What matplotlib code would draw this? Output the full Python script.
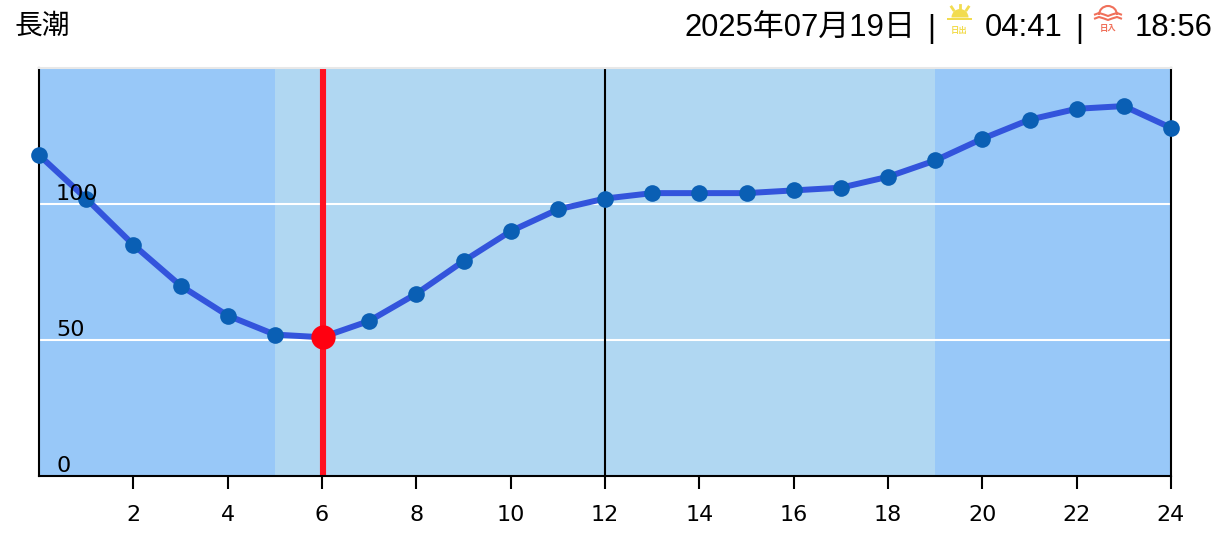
import matplotlib
matplotlib.use("Agg")
import matplotlib.pyplot as plt
from matplotlib.patches import Wedge, Rectangle, Arc

W, H = 1226, 542
hours = list(range(25))
tide = [118, 102, 85, 70, 59, 52, 51, 57, 67, 79, 90, 98, 102, 104, 104, 104, 105, 106, 110, 116, 124, 131, 135, 136, 128]
xticks = [2, 4, 6, 8, 10, 12, 14, 16, 18, 20, 22, 24]
ylevels = [0, 50, 100]
sunrise_hour, sunset_hour = 5, 19
now_hour, now_value = 6.02, 51
noon_hour = 12
title = "長潮"
date_text = "2025年07月19日"
rise_text, set_text = "04:41", "18:56"

plt.rcParams['font.family'] = ['DejaVu Sans', 'Noto Sans CJK JP']
head = ['Liberation Sans', 'Noto Sans CJK JP']
fig = plt.figure(figsize=(W/100, H/100), dpi=100, facecolor='white')

L, R, T, B = 39, 1171, 68, 476
ax = fig.add_axes([L/W, 1-B/H, (R-L)/W, (B-T)/H])
ax.set_xlim(0, 24)
ax.set_ylim(0, 150)
ax.set_facecolor('#98c8f8')
ax.axvspan(sunrise_hour, sunset_hour, color='#b0d7f2', lw=0, zorder=0)
for v in ylevels[1:]:
    ax.axhline(v, color='white', lw=1.5, zorder=1)
ax.axvline(noon_hour, color='black', lw=1.5, zorder=1.5)
ax.axvline(now_hour, color='#ff1020', lw=4.4, zorder=2)
ax.plot(hours, tide, color='#3354dc', lw=4.3, zorder=3, clip_on=False, solid_joinstyle='round')
ax.plot(hours, tide, ls='', marker='o', ms=12, color='#0a5fb4', mew=0, zorder=4, clip_on=False)
ax.plot([now_hour], [now_value], ls='', marker='o', ms=17.5, color='#ff0010', mew=0, zorder=5, clip_on=False)

ax.spines['top'].set_color('#e8e8e8'); ax.spines['top'].set_linewidth(1.5)
for s in ('left', 'right', 'bottom'):
    ax.spines[s].set_color('black'); ax.spines[s].set_linewidth(1.5)
ax.set_yticks([])
ax.set_xticks(xticks)
ax.tick_params(axis='x', length=9, width=1.5, pad=12, labelsize=16)

for v in ylevels:
    ax.annotate(str(v), (0, v), xytext=(17, 0), textcoords='offset pixels',
                fontsize=16, va='bottom', ha='left', zorder=7)

def px(x, y, s, **kw):
    fig.text(x/W, 1-y/H, s, **kw)

px(15, 27, title, fontsize=20, family=head, va='center', ha='left')
px(915, 28, date_text, fontsize=22.3, family=head, va='center', ha='right')
px(931, 29, "|", fontsize=22.3, family=head, va='center', ha='center')
px(985, 28, rise_text, fontsize=22.3, family=head, va='center', ha='left')
px(1079, 29, "|", fontsize=22.3, family=head, va='center', ha='center')
px(1135, 28, set_text, fontsize=22.3, family=head, va='center', ha='left')

# icon overlay in pixel coordinates
ov = fig.add_axes([0, 0, 1, 1], facecolor='none')
ov.set_xlim(0, W); ov.set_ylim(H, 0); ov.axis('off')
YEL, RED = '#f2dc50', '#f0705a'
ov.add_patch(Rectangle((947, 17.5), 25, 2.5, color=YEL, lw=0))
ov.add_patch(Wedge((960, 17.5), 8.5, 180, 360, color=YEL, lw=0))
for (x0, y0, x1, y1) in [(960, 5, 960, 8), (951.5, 7, 953.5, 10), (968.5, 7, 966.5, 10)]:
    ov.plot([x0, x1], [y0, y1], color=YEL, lw=2)
px(959, 30, "日出", fontsize=6, color=YEL, va='center', ha='center', family=['Noto Sans CJK JP'], weight='bold')
ov.add_patch(Arc((1108, 15), 18, 18, theta1=180, theta2=360, color=RED, lw=1.5))
for y in (14.5, 18.5):
    ov.plot([1095, 1099, 1104, 1108, 1112, 1117, 1121], [y, y-1.5, y, y+1.5, y, y-1.5, y], color=RED, lw=1.5)
px(1108, 29, "日入", fontsize=6, color=RED, va='center', ha='center', family=['Noto Sans CJK JP'], weight='bold')

fig.savefig('out.png', dpi=100)
